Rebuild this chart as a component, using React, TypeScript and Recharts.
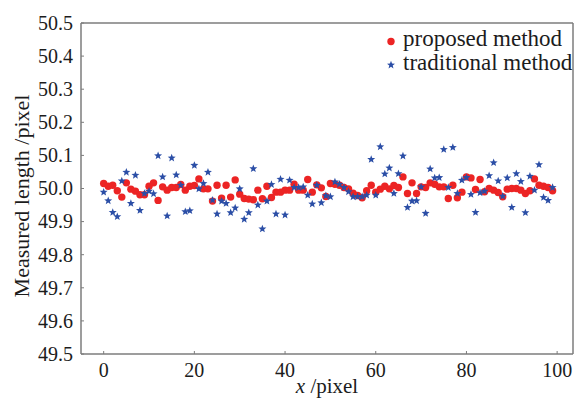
import React from 'react';
import { ScatterChart, Scatter, XAxis, YAxis, ReferenceLine } from 'recharts';

const proposed = [
  50.015, 50.007, 50.010, 49.993, 49.974, 50.017, 49.998, 49.992, 49.981, 49.981,
  50.007, 50.017, 49.964, 50.005, 49.995, 50.003, 50.003, 50.012, 49.995, 50.007,
  50.009, 50.029, 49.999, 49.999, 49.962, 50.010, 49.971, 50.010, 49.974, 50.026,
  49.983, 49.970, 49.968, 49.966, 49.995, 49.969, 50.007, 49.973, 49.989, 49.989,
  49.995, 49.995, 50.013, 49.995, 49.995, 50.027, 49.989, 50.011, 50.002, 49.976,
  50.015, 50.013, 50.010, 50.003, 49.999, 49.986, 49.979, 49.972, 49.993, 50.010,
  49.989, 49.998, 50.007, 49.999, 50.009, 50.003, 50.035, 49.985, 50.017, 49.985,
  50.005, 50.003, 50.017, 50.013, 50.005, 50.005, 49.970, 50.010, 49.972, 49.989,
  50.035, 50.032, 49.997, 50.027, 49.990, 50.000, 49.995, 49.988, 49.975, 49.998,
  50.000, 50.000, 49.995, 49.985, 49.993, 50.029, 50.010, 50.007, 50.003, 49.993,
];

const traditional = [
  49.989, 49.963, 49.928, 49.915, 50.023, 50.049, 49.955, 50.040, 49.934, 49.985,
  49.992, 49.984, 50.099, 50.035, 49.917, 50.092, 50.041, 50.010, 49.930, 49.933,
  50.070, 49.999, 50.015, 50.049, 49.965, 49.923, 49.962, 49.955, 49.927, 49.941,
  49.999, 49.907, 49.927, 50.060, 49.950, 49.878, 49.962, 50.012, 49.923, 50.028,
  49.920, 50.025, 50.003, 50.003, 50.005, 49.980, 49.953, 50.010, 49.957, 49.978,
  49.975, 50.020, 50.013, 50.003, 49.990, 49.975, 49.975, 49.975, 49.980, 50.088,
  49.980, 50.126, 50.044, 50.062, 49.985, 50.045, 50.098, 49.943, 49.962, 49.963,
  50.005, 49.925, 50.059, 50.032, 50.033, 50.118, 50.003, 50.124, 49.985, 50.025,
  50.033, 49.982, 49.928, 49.987, 49.992, 50.039, 50.078, 50.023, 49.977, 50.032,
  49.943, 50.045, 50.021, 49.927, 50.037, 49.995, 50.072, 49.973, 49.964, 50.003,
];

const xTicks = [0, 20, 40, 60, 80, 100];
const yTicks = [49.5, 49.6, 49.7, 49.8, 49.9, 50.0, 50.1, 50.2, 50.3, 50.4, 50.5];

const RED = '#ec2424';
const BLUE = '#2b4ea6';
const AXIS = '#7c7c7c';
const INK = '#1c1c1c';
const FONT = '"Liberation Serif", "Times New Roman", serif';

const proposedData = proposed.map((y, i) => ({ x: i, y }));
const traditionalData = traditional.map((y, i) => ({ x: i, y }));

function starPoints(cx: number, cy: number, ro: number, ri: number) {
  const pts: string[] = [];
  for (let k = 0; k < 10; k++) {
    const r = k % 2 === 0 ? ro : ri;
    const a = -Math.PI / 2 + (k * Math.PI) / 5;
    pts.push(`${cx + r * Math.cos(a)},${cy + r * Math.sin(a)}`);
  }
  return pts.join(' ');
}

const Dot = (props: any) => <circle cx={props.cx} cy={props.cy} r={3.7} fill={RED} />;
const Star = (props: any) => <polygon points={starPoints(props.cx, props.cy, 4.2, 1.8)} fill={BLUE} />;

const XTick = (props: any) => {
  const { x, y, payload } = props;
  return (
    <g>
      <line x1={x} y1={y - 10} x2={x} y2={y - 13} stroke={AXIS} strokeWidth={1} />
      <text x={x} y={y} dy={13} textAnchor="middle" fontSize={20} fontFamily={FONT} fill={INK}>
        {payload.value}
      </text>
    </g>
  );
};

const YTick = (props: any) => {
  const { x, y, payload } = props;
  return (
    <g>
      <line x1={x + 8} y1={y} x2={x + 11} y2={y} stroke={AXIS} strokeWidth={1} />
      <text x={x} y={y} dy={6.8} textAnchor="end" fontSize={20} fontFamily={FONT} fill={INK}>
        {payload.value.toFixed(1)}
      </text>
    </g>
  );
};

const LegendBox = () => (
  <svg width={200} height={60} style={{ position: 'absolute', left: 374, top: 20 }}>
    <circle cx={17} cy={21.5} r={3.7} fill={RED} />
    <text x={29} y={26} fontSize={23} fontFamily={FONT} fill={INK}>proposed method</text>
    <polygon points={starPoints(17, 45, 4.2, 1.8)} fill={BLUE} />
    <text x={29} y={50} fontSize={23} fontFamily={FONT} fill={INK}>traditional method</text>
  </svg>
);

export default function App() {
  return (
    <div style={{ position: 'absolute', left: 0, top: 0, width: 574, height: 399, background: '#fff', overflow: 'hidden' }}>
      <ScatterChart width={574} height={399} margin={{ top: 23, right: 1, bottom: 0, left: 0 }}>
        <XAxis
          type="number"
          dataKey="x"
          domain={[-5, 103.5]}
          ticks={xTicks}
          height={45}
          tickSize={0}
          tickMargin={10}
          tick={<XTick />}
          axisLine={{ stroke: AXIS, strokeWidth: 1.5 }}
          label={{
            content: () => (
              <text x={327} y={393} textAnchor="middle" fontSize={21} fontFamily={FONT} fill={INK}>
                <tspan fontStyle="italic">x</tspan> /pixel
              </text>
            ),
          }}
        />
        <YAxis
          type="number"
          dataKey="y"
          domain={[49.5, 50.5]}
          ticks={yTicks}
          width={81}
          tickSize={0}
          tickMargin={8}
          tick={<YTick />}
          axisLine={{ stroke: AXIS, strokeWidth: 1.5 }}
          label={{
            content: () => (
              <text transform="translate(29,196) rotate(-90)" textAnchor="middle" fontSize={22} fontFamily={FONT} fill={INK}>
                Measured length /pixel
              </text>
            ),
          }}
        />
        <ReferenceLine y={50.5} stroke={AXIS} strokeWidth={1.5} />
        <ReferenceLine x={103.5} stroke={AXIS} strokeWidth={1.5} />
        <Scatter name="proposed method" data={proposedData} fill={RED} shape={<Dot />} isAnimationActive={false} />
        <Scatter name="traditional method" data={traditionalData} fill={BLUE} shape={<Star />} isAnimationActive={false} />
      </ScatterChart>
      <LegendBox />
    </div>
  );
}
